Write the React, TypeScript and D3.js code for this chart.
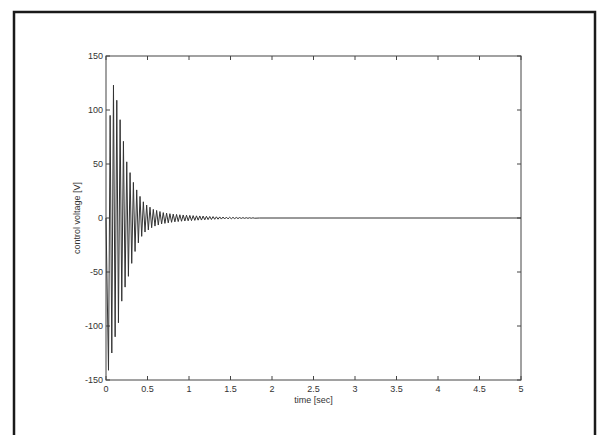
import React from "react";
import * as d3 from "d3";

// Controller output: alternating extrema of the decaying oscillation, then settled at 0
const peakTimes = [
  0, 0.03, 0.05, 0.07, 0.09, 0.11, 0.13, 0.15, 0.17, 0.19, 0.21, 0.23, 0.25, 0.27, 0.29,
  0.31, 0.33, 0.35, 0.37, 0.39, 0.41, 0.43, 0.45, 0.47, 0.49, 0.51, 0.53, 0.55, 0.57, 0.59,
  0.61, 0.63, 0.65, 0.67, 0.69, 0.71, 0.73, 0.75, 0.77, 0.79, 0.81, 0.83, 0.85, 0.87, 0.89,
  0.91, 0.93, 0.95, 0.97, 0.99, 1.01, 1.03, 1.05, 1.07, 1.09, 1.11, 1.13, 1.15, 1.17, 1.19,
  1.21, 1.23, 1.25, 1.27, 1.29, 1.31, 1.33, 1.35, 1.37, 1.39, 1.41, 1.43, 1.45, 1.47, 1.49,
  1.51, 1.53, 1.55, 1.57, 1.59, 1.61, 1.63, 1.65, 1.67, 1.69, 1.71, 1.73, 1.75, 1.77, 1.79,
  1.85, 5,
];
const peakValues = [
  0, -141, 95, -125, 123, -110, 109, -97, 91, -77, 71, -64, 52, -54, 42,
  -42, 33, -31, 26, -23, 20, -17, 15, -13, 12, -11, 10, -9, 8, -7.5,
  7, -6.5, 6, -5.5, 5, -5, 4.5, -4.5, 4, -4, 3.6, -3.6, 3.3, -3.3, 3,
  -3, 2.8, -2.8, 2.6, -2.6, 2.4, -2.4, 2.2, -2.2, 2, -2, 1.9, -1.9, 1.8, -1.7,
  1.6, -1.5, 1.4, -1.4, 1.3, -1.2, 1.1, -1.1, 1, -1, 0.9, -0.9, 0.8, -0.8, 0.7,
  -0.7, 0.6, -0.6, 0.5, -0.5, 0.4, -0.4, 0.35, -0.35, 0.3, -0.3, 0.25, -0.25, 0.2, -0.2,
  0, 0,
];

const xTicks = [0, 0.5, 1, 1.5, 2, 2.5, 3, 3.5, 4, 4.5, 5];
const yTicks = [-150, -100, -50, 0, 50, 100, 150];

const W = 603;
const H = 435;
const plot = { left: 106, right: 521, top: 56, bottom: 380 };

export default function App() {
  const x = d3.scaleLinear().domain([0, 5]).range([plot.left, plot.right]);
  const y = d3.scaleLinear().domain([-150, 150]).range([plot.bottom, plot.top]);

  const points: [number, number][] = peakTimes.map((t, i) => [t, peakValues[i]]);
  const line = d3
    .line<[number, number]>()
    .x((d) => x(d[0]))
    .y((d) => y(d[1]));

  const font = "Liberation Sans, Arial, sans-serif";
  const tickLen = 4;

  return (
    <svg
      width={W}
      height={H}
      style={{ position: "absolute", left: 0, top: 0, background: "#fff" }}
    >
      <rect x={0} y={0} width={W} height={H} fill="#fff" />
      {/* outer page frame */}
      <rect x={14} y={12} width={581} height={440} fill="none" stroke="#1a1a1a" strokeWidth={2.5} />

      {/* axes box */}
      <rect
        x={plot.left}
        y={plot.top}
        width={plot.right - plot.left}
        height={plot.bottom - plot.top}
        fill="none"
        stroke="#444"
        strokeWidth={1}
      />

      {/* x ticks (inward, bottom and top) */}
      {xTicks.map((t) => (
        <g key={"x" + t}>
          <line x1={x(t)} x2={x(t)} y1={plot.bottom} y2={plot.bottom - tickLen} stroke="#444" />
          <line x1={x(t)} x2={x(t)} y1={plot.top} y2={plot.top + tickLen} stroke="#444" />
          <text
            x={x(t)}
            y={plot.bottom + 12}
            textAnchor="middle"
            fontFamily={font}
            fontSize={9}
            fill="#333"
          >
            {t}
          </text>
        </g>
      ))}

      {/* y ticks (inward, left and right) */}
      {yTicks.map((v) => (
        <g key={"y" + v}>
          <line x1={plot.left} x2={plot.left + tickLen} y1={y(v)} y2={y(v)} stroke="#444" />
          <line x1={plot.right} x2={plot.right - tickLen} y1={y(v)} y2={y(v)} stroke="#444" />
          <text
            x={plot.left - 3}
            y={y(v) + 3}
            textAnchor="end"
            fontFamily={font}
            fontSize={9}
            fill="#333"
          >
            {v}
          </text>
        </g>
      ))}

      {/* signal */}
      <path
        d={line(points) ?? ""}
        fill="none"
        stroke="#333"
        strokeWidth={1}
        strokeLinejoin="miter"
      />

      <text
        x={(plot.left + plot.right) / 2}
        y={plot.bottom + 23}
        textAnchor="middle"
        fontFamily={font}
        fontSize={9}
        fill="#333"
      >
        time [sec]
      </text>
      <text
        transform={`translate(${80}, ${(plot.top + plot.bottom) / 2}) rotate(-90)`}
        textAnchor="middle"
        fontFamily={font}
        fontSize={9}
        fill="#333"
      >
        control voltage [V]
      </text>
    </svg>
  );
}
